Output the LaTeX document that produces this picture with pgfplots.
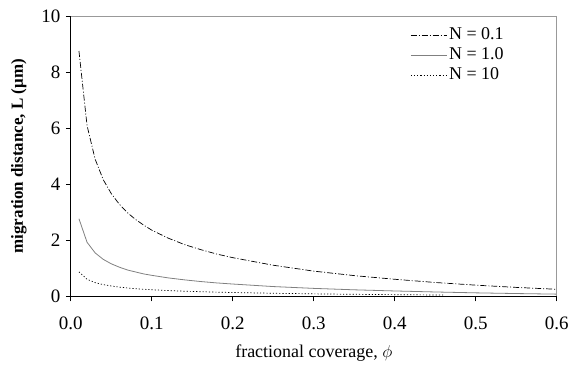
\documentclass[border=0pt]{standalone}
\usepackage{pgfplots}
\pgfplotsset{compat=1.18}
\usepackage{fontspec}
\setmainfont{Liberation Serif}
\pgfplotstableread{
phi L
0.01 8.75
0.02 6.09
0.03 4.89
0.04 4.16
0.05 3.66
0.06 3.28
0.07 2.98
0.08 2.74
0.09 2.54
0.10 2.36
0.12 2.08
0.14 1.85
0.16 1.67
0.18 1.51
0.20 1.38
0.25 1.11
0.30 0.90
0.35 0.74
0.40 0.61
0.45 0.495
0.50 0.40
0.55 0.32
0.60 0.253
}\Ntenth
\pgfplotstableread{
phi L
0.01 2.77
0.02 1.93
0.03 1.55
0.04 1.32
0.05 1.16
0.06 1.04
0.07 0.94
0.08 0.87
0.09 0.80
0.10 0.75
0.12 0.66
0.14 0.59
0.16 0.53
0.18 0.48
0.20 0.44
0.25 0.35
0.30 0.285
0.35 0.234
0.40 0.193
0.45 0.157
0.50 0.126
0.55 0.101
0.60 0.080
}\None
\pgfplotstableread{
phi L
0.01 0.875
0.02 0.61
0.03 0.49
0.04 0.42
0.05 0.37
0.06 0.33
0.07 0.30
0.08 0.275
0.09 0.254
0.10 0.236
0.12 0.208
0.14 0.185
0.16 0.167
0.18 0.151
0.20 0.138
0.25 0.111
0.30 0.090
0.35 0.074
0.40 0.061
0.45 0.050
0.46 0.048
}\Nten
\begin{document}
\begin{tikzpicture}
\begin{axis}[
  name=ax,
  scale only axis,
  width=487pt, height=281pt,
  xmin=0, xmax=0.6, ymin=0, ymax=10,
  axis x line*=bottom, axis y line*=left,
  axis line style={black, line width=0.9pt, -},
  xtick={0,0.1,...,0.6},
  ytick={0,2,...,10},
  tick align=outside,
  major tick length=5pt,
  tick style={black, line width=0.8pt},
  ticklabel style={font=\fontsize{19}{21}\selectfont},
  x tick label style={yshift=-12pt, /pgf/number format/fixed, /pgf/number format/fixed zerofill, /pgf/number format/precision=1, /pgf/number format/assume math mode=true},
  y tick label style={xshift=-2pt, /pgf/number format/assume math mode=true},
  xlabel={fractional coverage, $\phi$},
  ylabel={\bfseries migration distance, L (μm)},
  xlabel style={font=\fontsize{18}{20}\selectfont, yshift=-8pt},
  ylabel style={font=\fontsize{17}{19}\selectfont, yshift=8pt},
  legend style={draw=none, fill=none, at={(0.895,0.955)}, anchor=north east,
    font=\fontsize{18}{20}\selectfont, row sep=6pt, inner sep=0pt,
    nodes={inner xsep=2pt, inner ysep=0pt, text height=11pt, text depth=3pt}},
  legend cell align=left,
  legend image code/.code={\draw[#1] (0pt,0pt) -- (36pt,0pt);},
]
\addplot[black, line width=0.7pt, dash pattern=on 6pt off 2pt on 1pt off 2pt] table[x=phi,y=L] {\Ntenth};
\addlegendentry{N = 0.1}
\addplot[black!50, line width=0.8pt] table[x=phi,y=L] {\None};
\addlegendentry{N = 1.0}
\addplot[black, line width=0.7pt, dash pattern=on 1.2pt off 2pt] table[x=phi,y=L] {\Nten};
\addlegendentry{N = 10}
\draw[black!40, line width=0.8pt] (rel axis cs:0,1) -- (rel axis cs:1,1) -- (rel axis cs:1,0);
\end{axis}
\path ([shift={(-71pt,-63pt)}]ax.south west) rectangle ([shift={(14pt,16pt)}]ax.north east);
\end{tikzpicture}
\end{document}
